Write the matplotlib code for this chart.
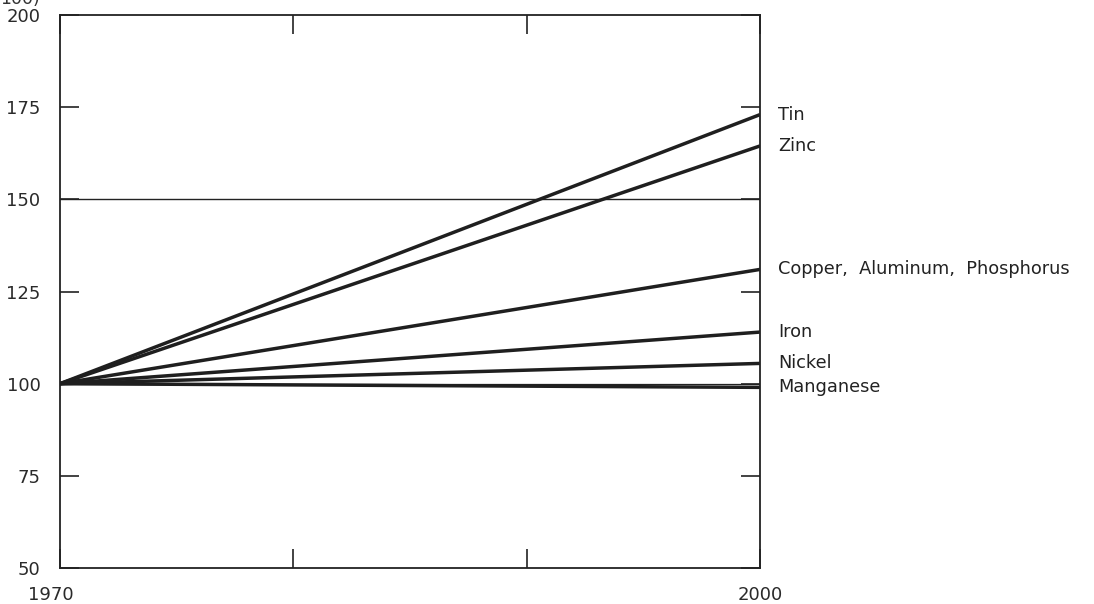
import matplotlib.pyplot as plt
import matplotlib.transforms as mtransforms

# Index, 1970 = 100
anios = [1970, 2000]
metales = ["Tin", "Zinc", "Copper,  Aluminum,  Phosphorus", "Iron", "Nickel", "Manganese"]
valores_2000 = [173, 164.5, 131, 114, 105.5, 99]
inicio = 100

ticks_y = [50, 75, 100, 125, 150, 175, 200]
ticks_x = [1970, 1980, 1990, 2000]

plt.rcParams['font.family'] = ['DejaVu Sans']

fig = plt.figure(figsize=(10.94, 6.04), dpi=100)
ax = fig.add_axes([0.0548, 0.0596, 0.64, 0.9155])

# lineas de referencia en 150 y 100
ax.axhline(150, color='#222222', lw=1.0)
ax.axhline(100, color='#222222', lw=0.9)

for nombre, v in zip(metales, valores_2000):
    ax.plot(anios, [inicio, v], color='#1f1f1f', lw=2.5, solid_capstyle='butt')
    ax.annotate(nombre, xy=(2000, v), xytext=(13, 0), textcoords='offset points',
                va='center', ha='left', fontsize=12.8, color='#222222')

ax.set_xlim(1970, 2000)
ax.set_ylim(50, 200)
ax.set_yticks(ticks_y)
ax.set_xticks(ticks_x)
ax.set_xticklabels(["1970", "", "", "2000"])
ax.tick_params(axis='both', direction='in', length=14, width=1.2, color='#222222',
               labelsize=13, labelcolor='#2a2a2a', top=True, right=True)
ax.tick_params(axis='y', pad=14)
ax.tick_params(axis='x', pad=13)
for s in ax.spines.values():
    s.set_color('#222222')
    s.set_linewidth(1.3)

# la etiqueta "1970" esta algo corrida a la izquierda en el original
lbl0 = ax.get_xticklabels()[0]
lbl0.set_transform(lbl0.get_transform() + mtransforms.ScaledTranslation(-9 / 100, 0, fig.dpi_scale_trans))

# resto del titulo del eje, recortado arriba como en el original
fig.text(0.0, 1.002, "100)", fontsize=12.5, color='#333333', va='center', ha='left')

fig.savefig("out.png", dpi=100)
